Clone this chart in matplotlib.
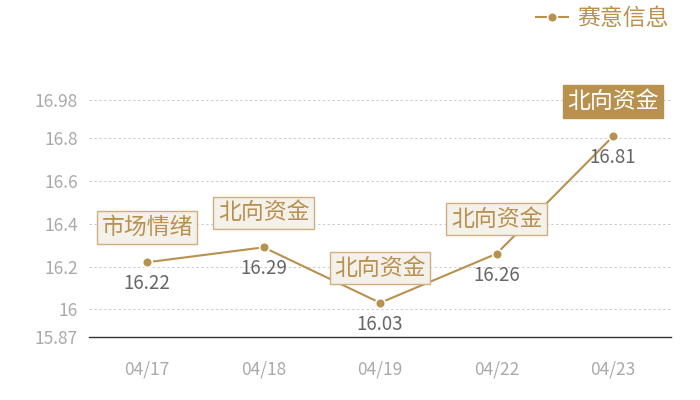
import matplotlib
matplotlib.use("Agg")
import matplotlib.pyplot as plt

plt.rcParams['font.family'] = ['Noto Sans CJK SC', 'DejaVu Sans']

dates = ["04/17", "04/18", "04/19", "04/22", "04/23"]
values = [16.22, 16.29, 16.03, 16.26, 16.81]
tags = ["市场情绪", "北向资金", "北向资金", "北向资金", "北向资金"]
highlight = [False, False, False, False, True]
yticks = [15.87, 16, 16.2, 16.4, 16.6, 16.8, 16.98]
ytick_labels = ["15.87", "16", "16.2", "16.4", "16.6", "16.8", "16.98"]
series_name = "赛意信息"

gold = "#B8914F"
fig = plt.figure(figsize=(7, 4), dpi=100)
ax = fig.add_axes([0.127, 0.1575, 0.832, 0.5925])

x = list(range(len(dates)))
ax.plot(x, values, color=gold, lw=1.5, marker='o', ms=7, mfc=gold,
        mec='white', mew=1.2, label=series_name, zorder=3, clip_on=False)

ax.set_xlim(-0.5, len(dates) - 0.5)
ax.set_ylim(15.87, 16.98)
ax.set_yticks(yticks)
ax.set_yticklabels(ytick_labels)
ax.set_xticks(x)
ax.set_xticklabels(dates)
ax.tick_params(axis='both', length=0, labelsize=12.5, colors='#AAAAAA')
ax.tick_params(axis='x', pad=17)
ax.tick_params(axis='y', pad=8)
for s in ['top', 'right', 'left']:
    ax.spines[s].set_visible(False)
ax.spines['bottom'].set_color('#333333')
ax.spines['bottom'].set_linewidth(1)
for yv in yticks[1:]:
    ax.axhline(yv, color='#CCCCCC', lw=0.7, ls=(0, (2.5, 2.5)), zorder=1)

for xi, v, t, h in zip(x, values, tags, highlight):
    ax.annotate(f"{v:.2f}", (xi, v), xytext=(0, -15.5), textcoords='offset points',
                ha='center', va='center', fontsize=13.5, color='#666666', zorder=5)
    if h:
        bbox = dict(boxstyle='square,pad=0.2', fc=gold, ec=gold, lw=1)
        tc = 'white'
    else:
        bbox = dict(boxstyle='square,pad=0.2', fc='#F4F0EA', ec='#CFAE7F', lw=1)
        tc = gold
    ax.annotate(t, (xi, v), xytext=(0, 25), textcoords='offset points',
                ha='center', va='center', fontsize=16.5, color=tc, bbox=bbox,
                zorder=6, annotation_clip=False)

leg = fig.legend(loc='upper right', bbox_to_anchor=(0.985, 1.035), frameon=False,
                 fontsize=16.5, handlelength=1.4, handletextpad=0.4)
for txt in leg.get_texts():
    txt.set_color(gold)

fig.savefig("out.png", dpi=100)
